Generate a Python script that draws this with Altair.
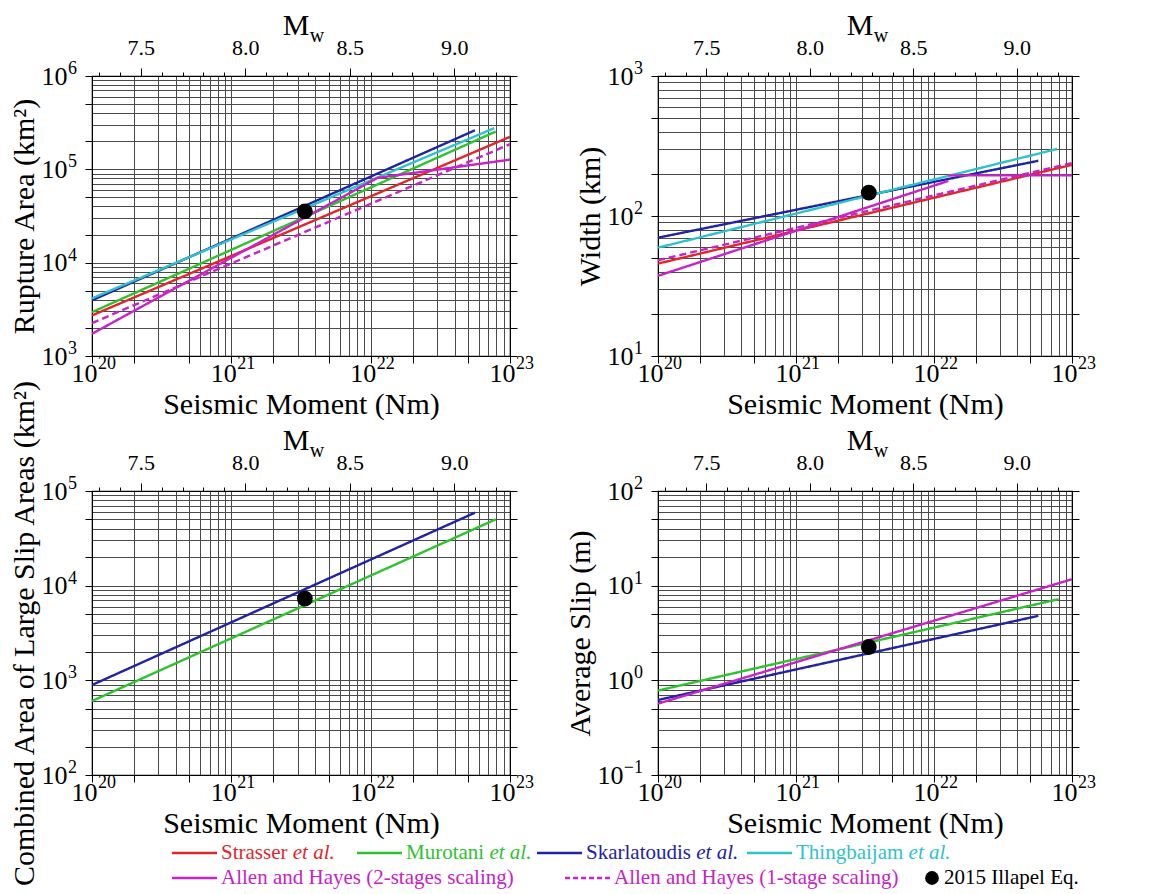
import altair as alt
import pandas as pd

FONT = "Liberation Serif"

# ---------------- series metadata ----------------
MODELS = ["Strasser", "Murotani", "Skarlatoudis", "Thingbaijam", "Allen2", "Allen1"]
LEGEND_NAMES = ["Strasser ", "Murotani ", "Skarlatoudis ", "Thingbaijam ",
                "Allen and Hayes (2-stages scaling)", "Allen and Hayes (1-stage scaling)"]
LEGEND_ITALIC = ["et al.", "et al.", "et al.", "et al.", "", ""]
LINE_COLORS = ["#e2252b", "#2dc32d", "#2222a6", "#2ec3cb", "#c822c8", "#c822c8"]
DASHES = [[1, 0], [1, 0], [1, 0], [1, 0], [1, 0], [7, 4]]
ILLAPEL_LABEL = "2015 Illapel Eq."

# ---------------- values ----------------
# Rupture area (km^2) vs seismic moment (Nm)
area_strasser_m0 = [1e20, 1e23]
area_strasser = [2720, 223000]
area_murotani_m0 = [1e20, 7.9e22]
area_murotani = [2950, 254000]
area_skarlatoudis_m0 = [1e20, 5.6e22]
area_skarlatoudis = [3950, 262000]
area_thingbaijam_m0 = [1e20, 7.7e22]
area_thingbaijam = [4150, 276000]
area_allen2_m0 = [1e20, 1.12e22, 1e23]
area_allen2 = [1730, 81000, 127000]
area_allen1_m0 = [1e20, 1e23]
area_allen1 = [2250, 186000]

# Width (km)
width_strasser_m0 = [1e20, 1e23]
width_strasser = [45.7, 232]
width_skarlatoudis_m0 = [1e20, 5.7e22]
width_skarlatoudis = [70, 248]
width_thingbaijam_m0 = [1e20, 7.8e22]
width_thingbaijam = [59.4, 301]
width_allen2_lower_m0 = [1e20, 1.27e22]
width_allen2_lower = [37.4, 178]
width_allen2_upper_m0 = [1.27e22, 1e23]
width_allen2_upper = [195, 195]
width_allen1_m0 = [1e20, 1e23]
width_allen1 = [48.3, 239]

# Combined area of large slip areas (km^2)
large_murotani_m0 = [1e20, 7.9e22]
large_murotani = [605, 50200]
large_skarlatoudis_m0 = [1e20, 5.6e22]
large_skarlatoudis = [893, 59000]

# Average slip (m)
slip_murotani_m0 = [1e20, 8.0e22]
slip_murotani = [0.78, 7.2]
slip_skarlatoudis_m0 = [1e20, 5.7e22]
slip_skarlatoudis = [0.62, 4.8]
slip_allen2_m0 = [1e20, 1e23]
slip_allen2 = [0.567, 11.7]

# 2015 Illapel earthquake
illapel_m0 = [3.37e21]
illapel_area = [35500]
illapel_width = [147]
illapel_large_area = [7300]
illapel_slip = [2.25]

# tick-label exponents
X_POWERS = [20, 21, 22, 23]

# ---------------- helpers ----------------
MW_LO = (20 - 9.1) / 1.5
MW_HI = (23 - 9.1) / 1.5
MW_TICKS = [round(7.3 + 0.1 * i, 1) for i in range(20)]

LABEL_SIZE = 26
EXP_SIZE = 18
TITLE_SIZE = 30

TNR = {"S": 556, "t": 278, "r": 333, "a": 444, "s": 389, "e": 444, " ": 250, "M": 889,
       "u": 500, "o": 500, "n": 500, "i": 278, "k": 500, "l": 278, "d": 500, "T": 611,
       "h": 500, "g": 500, "b": 500, "j": 278, "m": 778}


def text_width(s, size):
    return sum(TNR.get(c, 500) for c in s) * size / 1000.0


def dec(k, p):
    return float(f"{k}e{p}")


def grid_values(lo, hi):
    return [dec(k, p) for p in range(lo, hi) for k in range(1, 10)] + [dec(1, hi)]


def tick_values(lo, hi):
    return [dec(k, p) for p in range(lo, hi) for k in (1, 2, 5)] + [dec(1, hi)]


def ten_labels(lo, hi):
    vals = ",".join(repr(dec(1, p)) for p in range(lo, hi + 1))
    return f"indexof([{vals}], datum.value) >= 0 ? '10' : ''"


def exp_text(p):
    return str(p).replace("-", "−")


def tick_opacity(lo, hi):
    vals = ",".join(repr(v) for v in tick_values(lo, hi))
    return {"condition": {"test": f"indexof([{vals}], datum.value) >= 0", "value": 1}, "value": 0}


def table(series):
    rows = []
    for model, seg, xs, ys in series:
        for x, y in zip(xs, ys):
            rows.append({"model": model, "seg": f"{model}-{seg}", "m0": x, "val": y})
    return pd.DataFrame(rows)


def panel(series, dot_vals, ylo, yhi, ytitle, w, h, extra=()):
    df = table(series)
    dot_df = pd.DataFrame({"m0": illapel_m0, "val": dot_vals})
    xs = alt.Scale(type="log", domain=[1e20, 1e23], nice=False)
    ys = alt.Scale(type="log", domain=[dec(1, ylo), dec(1, yhi)], nice=False)
    common = dict(labelFont=FONT, titleFont=FONT, labelColor="black", titleColor="black",
                  titleFontWeight="normal", labelFontSize=LABEL_SIZE, titleFontSize=TITLE_SIZE,
                  domainColor="black", tickColor="black")
    x_axis = alt.Axis(values=grid_values(20, 23), grid=True, labelExpr=ten_labels(20, 23),
                      title="Seismic Moment (Nm)", tickOpacity=tick_opacity(20, 23), tickSize=7,
                      labelPadding=-3, labelOffset=-8, titlePadding=3, labelFlush=False,
                      labelOverlap=False, **common)
    y_axis = alt.Axis(values=grid_values(ylo, yhi), grid=True, labelExpr=ten_labels(ylo, yhi),
                      title=ytitle, tickOpacity=tick_opacity(ylo, yhi), tickSize=7,
                      labelPadding={"condition": {"test": "datum.value < 1", "value": 28}, "value": 18},
                      titlePadding=2, labelFlush=False, labelOverlap=False, **common)
    r_axis = alt.Axis(orient="right", values=grid_values(ylo, yhi), grid=False, labels=False,
                      title=None, tickOpacity=tick_opacity(ylo, yhi), tickSize=7,
                      domainColor="black", tickColor="black")
    major = "abs(datum.value * 2 - round(datum.value * 2)) < 0.001"
    top_axis = alt.Axis(orient="top", values=MW_TICKS, grid=False, title=None,
                        labelExpr=f"{major} ? format(datum.value, '.1f') : ''",
                        tickSize={"condition": {"test": major, "value": 8}, "value": 4},
                        labelFont=FONT, labelFontSize=22, labelColor="black", labelPadding=9,
                        labelFlush=False, labelOverlap=False, domainColor="black", tickColor="black")

    lines = alt.Chart(df).mark_line(strokeWidth=2.4, clip=True).encode(
        x=alt.X("m0:Q", scale=xs, axis=x_axis),
        y=alt.Y("val:Q", scale=ys, axis=y_axis),
        color=alt.Color("model:N", scale=alt.Scale(domain=MODELS, range=LINE_COLORS), legend=None),
        strokeDash=alt.StrokeDash("model:N", scale=alt.Scale(domain=MODELS, range=DASHES), legend=None),
        detail="seg:N",
    )
    dot = alt.Chart(dot_df).mark_circle(size=250, color="black", opacity=1).encode(
        x=alt.X("m0:Q", scale=xs, axis=x_axis),
        y=alt.Y("val:Q", scale=ys, axis=r_axis),
    )
    xexp_df = pd.DataFrame({"m0": [dec(1, p) for p in X_POWERS], "e": [exp_text(p) for p in X_POWERS]})
    x_exp = alt.Chart(xexp_df).mark_text(font=FONT, fontSize=EXP_SIZE, align="left", baseline="top",
                                         dx=6, color="black").encode(
        x=alt.X("m0:Q", scale=xs, axis=x_axis), y=alt.value(h - 1), text="e:N")
    y_pows = list(range(ylo, yhi + 1))
    yexp_df = pd.DataFrame({"val": [dec(1, p) for p in y_pows], "e": [exp_text(p) for p in y_pows]})
    y_exp = alt.Chart(yexp_df).mark_text(font=FONT, fontSize=EXP_SIZE, align="right", baseline="middle",
                                         dy=-7, color="black").encode(
        x=alt.value(-15), y=alt.Y("val:Q", scale=ys, axis=None), text="e:N")
    inner = alt.layer(lines, dot, x_exp, y_exp).resolve_axis(y="independent")

    mw = alt.Chart(pd.DataFrame({"mw": [MW_LO, MW_HI]})).mark_point(opacity=0).encode(
        x=alt.X("mw:Q", scale=alt.Scale(domain=[MW_LO, MW_HI], nice=False, zero=False), axis=top_axis)
    )
    m_txt = alt.Chart(pd.DataFrame({"t": ["M"]})).mark_text(
        font=FONT, fontSize=TITLE_SIZE, align="center", baseline="alphabetic", color="black"
    ).encode(x=alt.value(w / 2 - 5), y=alt.value(-41), text="t:N")
    w_txt = alt.Chart(pd.DataFrame({"t": ["w"]})).mark_text(
        font=FONT, fontSize=20, align="center", baseline="alphabetic", color="black"
    ).encode(x=alt.value(w / 2 + 16), y=alt.value(-34), text="t:N")
    return alt.layer(inner, mw, m_txt, w_txt, *extra).resolve_scale(x="independent").properties(
        width=w, height=h)


# ---------------- legend (placed below the lower-left panel) ----------------
LEG_SIZE = 21
LEG_SWATCH = 45
LEG_X = [80, 265, 445, 655, 80, 473]   # swatch start, relative to lower-left plot
LEG_ROW_Y = [362, 387]
LEG_ROW = [0, 0, 0, 0, 1, 1]
DOT_X = 840

leg_rows = []
for i in range(len(MODELS)):
    x1 = LEG_X[i]
    tx = x1 + LEG_SWATCH + 4
    leg_rows.append({"x1": x1, "x2": x1 + LEG_SWATCH, "y": LEG_ROW_Y[LEG_ROW[i]],
                     "color": LINE_COLORS[i], "name": LEGEND_NAMES[i], "tx": tx,
                     "ital": LEGEND_ITALIC[i], "ix": tx + text_width(LEGEND_NAMES[i], LEG_SIZE),
                     "dashed": DASHES[i][1] > 0})
leg = pd.DataFrame(leg_rows)
dot_leg = pd.DataFrame({"x": [DOT_X], "tx": [DOT_X + 12], "y": [LEG_ROW_Y[1]], "name": [ILLAPEL_LABEL]})

noX = dict(scale=None, axis=None)
leg_solid = alt.Chart(leg[~leg["dashed"]]).mark_rule(strokeWidth=2.4).encode(
    x=alt.X("x1:Q", **noX), x2="x2:Q", y=alt.Y("y:Q", **noX), color=alt.Color("color:N", scale=None))
leg_dash = alt.Chart(leg[leg["dashed"]]).mark_rule(strokeWidth=2.4, strokeDash=[5, 3]).encode(
    x=alt.X("x1:Q", **noX), x2="x2:Q", y=alt.Y("y:Q", **noX), color=alt.Color("color:N", scale=None))
leg_text = alt.Chart(leg).mark_text(font=FONT, fontSize=LEG_SIZE, align="left", baseline="middle").encode(
    x=alt.X("tx:Q", **noX), y=alt.Y("y:Q", **noX), text="name:N", color=alt.Color("color:N", scale=None))
leg_ital = alt.Chart(leg[leg["ital"] != ""]).mark_text(
    font=FONT, fontSize=LEG_SIZE, fontStyle="italic", align="left", baseline="middle").encode(
    x=alt.X("ix:Q", **noX), y=alt.Y("y:Q", **noX), text="ital:N", color=alt.Color("color:N", scale=None))
leg_dot = alt.Chart(dot_leg).mark_circle(size=190, color="black", opacity=1).encode(
    x=alt.X("x:Q", **noX), y=alt.Y("y:Q", **noX))
leg_dot_text = alt.Chart(dot_leg).mark_text(font=FONT, fontSize=LEG_SIZE, align="left", baseline="middle",
                                            color="black").encode(
    x=alt.X("tx:Q", **noX), y=alt.Y("y:Q", **noX), text="name:N")
legend_layers = [leg_solid, leg_dash, leg_text, leg_ital, leg_dot, leg_dot_text]

# ---------------- panels ----------------
p1 = panel([
    ("Strasser", 0, area_strasser_m0, area_strasser),
    ("Murotani", 0, area_murotani_m0, area_murotani),
    ("Skarlatoudis", 0, area_skarlatoudis_m0, area_skarlatoudis),
    ("Thingbaijam", 0, area_thingbaijam_m0, area_thingbaijam),
    ("Allen2", 0, area_allen2_m0, area_allen2),
    ("Allen1", 0, area_allen1_m0, area_allen1),
], illapel_area, 3, 6, "Rupture Area (km²)", 418, 280)

p2 = panel([
    ("Strasser", 0, width_strasser_m0, width_strasser),
    ("Skarlatoudis", 0, width_skarlatoudis_m0, width_skarlatoudis),
    ("Thingbaijam", 0, width_thingbaijam_m0, width_thingbaijam),
    ("Allen2", 0, width_allen2_lower_m0, width_allen2_lower),
    ("Allen2", 1, width_allen2_upper_m0, width_allen2_upper),
    ("Allen1", 0, width_allen1_m0, width_allen1),
], illapel_width, 1, 3, "Width (km)", 414, 280)

p3 = panel([
    ("Murotani", 0, large_murotani_m0, large_murotani),
    ("Skarlatoudis", 0, large_skarlatoudis_m0, large_skarlatoudis),
], illapel_large_area, 2, 5, "Combined Area of Large Slip Areas (km²)", 418, 284,
    extra=legend_layers)

p4 = panel([
    ("Murotani", 0, slip_murotani_m0, slip_murotani),
    ("Skarlatoudis", 0, slip_skarlatoudis_m0, slip_skarlatoudis),
    ("Allen2", 0, slip_allen2_m0, slip_allen2),
], illapel_slip, -1, 2, "Average Slip (m)", 414, 284)

chart = alt.concat(p1, p2, p3, p4, columns=2, spacing={"row": 135, "column": 148}, bounds="flush")
chart = chart.configure(font=FONT).configure_axis(
    labelFont=FONT, titleFont=FONT, tickWidth=1,
    gridColor="#4a4a4a", gridWidth=1, gridOpacity=1,
).configure_view(stroke="black", strokeWidth=1.2).properties(
    background="white", padding={"left": 0, "top": 2, "right": 5, "bottom": 0})

chart.save("out.html", embed_options={"renderer": "svg", "actions": False})
